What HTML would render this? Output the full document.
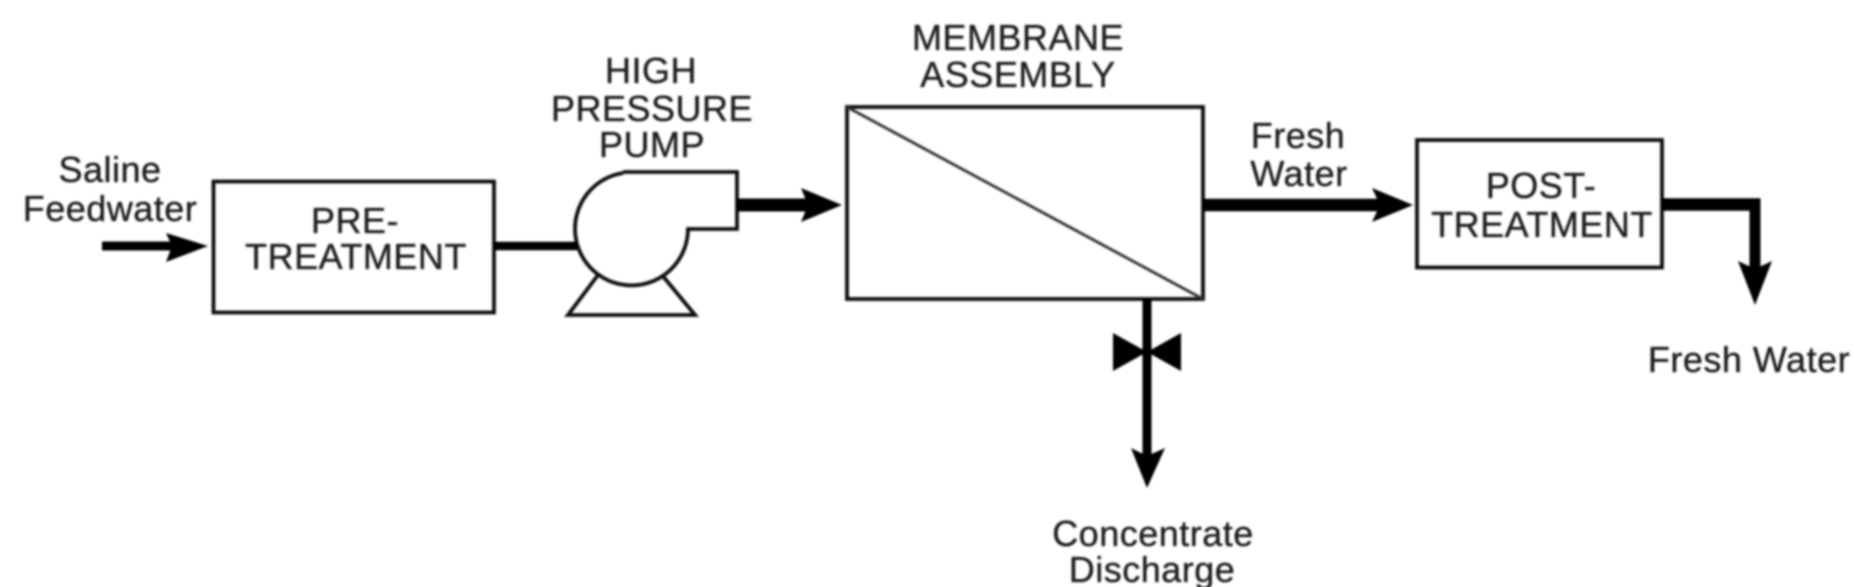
<!DOCTYPE html>
<html><head><meta charset="utf-8"><style>
html,body{margin:0;padding:0;background:#fff;width:1855px;height:587px;overflow:hidden}
svg{display:block}
text{font-family:"Liberation Sans",Arial,sans-serif;font-size:36px;fill:#1c1c1c;stroke:#1c1c1c;stroke-width:.35px;text-anchor:middle;letter-spacing:.5px}
</style></head><body>
<svg width="1855" height="587" viewBox="0 0 1855 587" xmlns="http://www.w3.org/2000/svg">
<defs><filter id="b" x="-2%" y="-2%" width="104%" height="104%"><feGaussianBlur stdDeviation="1.1"/></filter></defs>
<rect width="1855" height="587" fill="#fff"/>
<g filter="url(#b)">
<g fill="none" stroke="#111" stroke-width="3.8">
<rect x="213.5" y="181.5" width="280.5" height="131"/>
<rect x="847" y="107" width="356" height="192"/>
<rect x="1417" y="140" width="245" height="127.5"/>
<path d="M847 107L1203 299" stroke-width="2.8" stroke="#333"/>
<path d="M623 172H737V229H688A56.5 56.5 0 1 1 623 173"/>
<path d="M598 275L568 315H695L662 275"/>
</g>
<g fill="none" stroke="#000">
<path d="M102 246H180" stroke-width="9"/>
<path d="M494 246H577" stroke-width="8.5"/>
<path d="M737 205H812" stroke-width="13"/>
<path d="M1203 205H1382" stroke-width="12.5"/>
<path d="M1662 204.5H1760.5" stroke-width="12.5"/>
<path d="M1755 198.5V272" stroke-width="11"/>
<path d="M1147 299V460" stroke-width="9"/>
</g>
<g fill="#000">
<path d="M208 246L166 233L172 246L166 262Z"/>
<path d="M842 205L801 188L808 205L801 222Z"/>
<path d="M1413 205L1372 188L1380 205L1372 222Z"/>
<path d="M1755 305L1738 261L1755 269L1772 261Z"/>
<path d="M1147 488L1131 448L1147 456L1165 448Z"/>
<path d="M1113 333L1147 352L1181 333V371L1147 352L1113 371Z"/>
</g>
<text x="110" y="182">Saline</text>
<text x="110" y="221">Feedwater</text>
<text x="355" y="233">PRE-</text>
<text x="356" y="269">TREATMENT</text>
<text x="651" y="83">HIGH</text>
<text x="652" y="121">PRESSURE</text>
<text x="652" y="157">PUMP</text>
<text x="1018" y="50">MEMBRANE</text>
<text x="1018" y="87">ASSEMBLY</text>
<text x="1298" y="148">Fresh</text>
<text x="1299" y="186">Water</text>
<text x="1541" y="198">POST-</text>
<text x="1542" y="237">TREATMENT</text>
<text x="1749" y="372">Fresh Water</text>
<text x="1153" y="546">Concentrate</text>
<text x="1152" y="582">Discharge</text>
</g>
</svg>
</body></html>
